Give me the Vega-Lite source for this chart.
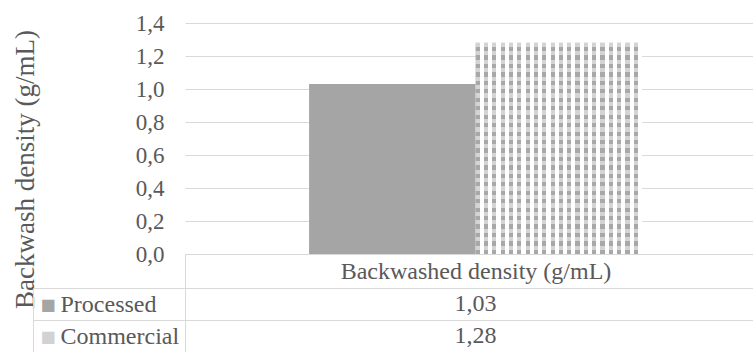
{
  "$schema": "https://vega.github.io/schema/vega-lite/v6.json",
  "background": "white",
  "padding": {"left": 11, "top": 12, "right": 0, "bottom": 0},
  "autosize": {"type": "pad"},
  "bounds": "flush",
  "spacing": 34,
  "config": {
    "locale": {"number": {"decimal": ",", "thousands": ".", "grouping": [3], "currency": ["", " €"]}},
    "view": {"stroke": null},
    "font": "Liberation Serif",
    "axis": {
      "labelFont": "Liberation Serif",
      "titleFont": "Liberation Serif",
      "labelColor": "#595959",
      "titleColor": "#595959",
      "titleFontWeight": "normal",
      "labelLimit": 0
    }
  },
  "datasets": {
    "density": [
      {"metric": "Backwashed density (g/mL)", "series": "Processed", "value": 1.03},
      {"metric": "Backwashed density (g/mL)", "series": "Commercial", "value": 1.28}
    ]
  },
  "vconcat": [
    {
      "data": {"name": "density"},
      "width": 568,
      "height": 231,
      "encoding": {
        "x": {
          "field": "metric",
          "type": "nominal",
          "scale": {"paddingInner": 0, "paddingOuter": 0},
          "axis": {
            "title": null,
            "labelAngle": 0,
            "labelFontSize": 24,
            "labelBaseline": "middle",
            "labelPadding": -17,
            "tickSize": 34,
            "tickColor": "#d9d9d9",
            "tickOffset": -284,
            "labelOffset": 290.5,
            "domainColor": "#d9d9d9",
            "grid": false
          }
        },
        "xOffset": {
          "field": "series",
          "type": "nominal",
          "scale": {"domain": ["Processed", "Commercial"], "paddingInner": 0, "paddingOuter": 0.7057, "align": 0.528}
        },
        "y": {
          "field": "value",
          "type": "quantitative",
          "scale": {"domain": [0, 1.4], "nice": false},
          "axis": {
            "values": [0, 0.2, 0.4, 0.6, 0.8, 1, 1.2, 1.4],
            "format": ".1f",
            "title": "Backwash density (g/mL)",
            "titleFontSize": 27,
            "titleX": -146,
            "titleY": 146,
            "titleAngle": -90,
            "titleAlign": "center",
            "titleBaseline": "bottom",
            "titleLimit": 400,
            "labelFontSize": 23,
            "labelPadding": 21,
            "ticks": false,
            "tickSize": 0,
            "domain": false,
            "gridColor": "#d9d9d9"
          }
        }
      },
      "layer": [
        {
          "transform": [{"filter": "datum.series === 'Processed'"}],
          "mark": {"type": "bar", "color": "#a5a5a5"}
        },
        {
          "transform": [{"filter": "datum.series === 'Commercial'"}],
          "mark": {
            "type": "bar",
            "color": {
              "gradient": "linear", "x1": 0, "x2": 1, "y1": 0, "y2": 0,
              "stops": [
                {"offset": 0, "color": "#a8a8a8"}, {"offset": 0.025, "color": "#a8a8a8"}, {"offset": 0.025, "color": "#ffffff"}, {"offset": 0.05, "color": "#ffffff"},
                {"offset": 0.05, "color": "#a8a8a8"}, {"offset": 0.075, "color": "#a8a8a8"}, {"offset": 0.075, "color": "#ffffff"}, {"offset": 0.1, "color": "#ffffff"},
                {"offset": 0.1, "color": "#a8a8a8"}, {"offset": 0.125, "color": "#a8a8a8"}, {"offset": 0.125, "color": "#ffffff"}, {"offset": 0.15, "color": "#ffffff"},
                {"offset": 0.15, "color": "#a8a8a8"}, {"offset": 0.175, "color": "#a8a8a8"}, {"offset": 0.175, "color": "#ffffff"}, {"offset": 0.2, "color": "#ffffff"},
                {"offset": 0.2, "color": "#a8a8a8"}, {"offset": 0.225, "color": "#a8a8a8"}, {"offset": 0.225, "color": "#ffffff"}, {"offset": 0.25, "color": "#ffffff"},
                {"offset": 0.25, "color": "#a8a8a8"}, {"offset": 0.275, "color": "#a8a8a8"}, {"offset": 0.275, "color": "#ffffff"}, {"offset": 0.3, "color": "#ffffff"},
                {"offset": 0.3, "color": "#a8a8a8"}, {"offset": 0.325, "color": "#a8a8a8"}, {"offset": 0.325, "color": "#ffffff"}, {"offset": 0.35, "color": "#ffffff"},
                {"offset": 0.35, "color": "#a8a8a8"}, {"offset": 0.375, "color": "#a8a8a8"}, {"offset": 0.375, "color": "#ffffff"}, {"offset": 0.4, "color": "#ffffff"},
                {"offset": 0.4, "color": "#a8a8a8"}, {"offset": 0.425, "color": "#a8a8a8"}, {"offset": 0.425, "color": "#ffffff"}, {"offset": 0.45, "color": "#ffffff"},
                {"offset": 0.45, "color": "#a8a8a8"}, {"offset": 0.475, "color": "#a8a8a8"}, {"offset": 0.475, "color": "#ffffff"}, {"offset": 0.5, "color": "#ffffff"},
                {"offset": 0.5, "color": "#a8a8a8"}, {"offset": 0.525, "color": "#a8a8a8"}, {"offset": 0.525, "color": "#ffffff"}, {"offset": 0.55, "color": "#ffffff"},
                {"offset": 0.55, "color": "#a8a8a8"}, {"offset": 0.575, "color": "#a8a8a8"}, {"offset": 0.575, "color": "#ffffff"}, {"offset": 0.6, "color": "#ffffff"},
                {"offset": 0.6, "color": "#a8a8a8"}, {"offset": 0.625, "color": "#a8a8a8"}, {"offset": 0.625, "color": "#ffffff"}, {"offset": 0.65, "color": "#ffffff"},
                {"offset": 0.65, "color": "#a8a8a8"}, {"offset": 0.675, "color": "#a8a8a8"}, {"offset": 0.675, "color": "#ffffff"}, {"offset": 0.7, "color": "#ffffff"},
                {"offset": 0.7, "color": "#a8a8a8"}, {"offset": 0.725, "color": "#a8a8a8"}, {"offset": 0.725, "color": "#ffffff"}, {"offset": 0.75, "color": "#ffffff"},
                {"offset": 0.75, "color": "#a8a8a8"}, {"offset": 0.775, "color": "#a8a8a8"}, {"offset": 0.775, "color": "#ffffff"}, {"offset": 0.8, "color": "#ffffff"},
                {"offset": 0.8, "color": "#a8a8a8"}, {"offset": 0.825, "color": "#a8a8a8"}, {"offset": 0.825, "color": "#ffffff"}, {"offset": 0.85, "color": "#ffffff"},
                {"offset": 0.85, "color": "#a8a8a8"}, {"offset": 0.875, "color": "#a8a8a8"}, {"offset": 0.875, "color": "#ffffff"}, {"offset": 0.9, "color": "#ffffff"},
                {"offset": 0.9, "color": "#a8a8a8"}, {"offset": 0.925, "color": "#a8a8a8"}, {"offset": 0.925, "color": "#ffffff"}, {"offset": 0.95, "color": "#ffffff"},
                {"offset": 0.95, "color": "#a8a8a8"}, {"offset": 0.975, "color": "#a8a8a8"}, {"offset": 0.975, "color": "#ffffff"}, {"offset": 1, "color": "#ffffff"}
              ]
            }
          }
        },
        {
          "transform": [{"filter": "datum.series === 'Commercial'"}],
          "mark": {
            "type": "bar",
            "color": {
              "gradient": "linear", "x1": 0, "x2": 0, "y1": 0, "y2": 1,
              "stops": [
                {"offset": 0, "color": "rgba(255,255,255,0.5)"}, {"offset": 0.02, "color": "rgba(255,255,255,0.5)"}, {"offset": 0.02, "color": "rgba(255,255,255,0)"}, {"offset": 0.04, "color": "rgba(255,255,255,0)"},
                {"offset": 0.04, "color": "rgba(255,255,255,0.5)"}, {"offset": 0.06, "color": "rgba(255,255,255,0.5)"}, {"offset": 0.06, "color": "rgba(255,255,255,0)"}, {"offset": 0.08, "color": "rgba(255,255,255,0)"},
                {"offset": 0.08, "color": "rgba(255,255,255,0.5)"}, {"offset": 0.1, "color": "rgba(255,255,255,0.5)"}, {"offset": 0.1, "color": "rgba(255,255,255,0)"}, {"offset": 0.12, "color": "rgba(255,255,255,0)"},
                {"offset": 0.12, "color": "rgba(255,255,255,0.5)"}, {"offset": 0.14, "color": "rgba(255,255,255,0.5)"}, {"offset": 0.14, "color": "rgba(255,255,255,0)"}, {"offset": 0.16, "color": "rgba(255,255,255,0)"},
                {"offset": 0.16, "color": "rgba(255,255,255,0.5)"}, {"offset": 0.18, "color": "rgba(255,255,255,0.5)"}, {"offset": 0.18, "color": "rgba(255,255,255,0)"}, {"offset": 0.2, "color": "rgba(255,255,255,0)"},
                {"offset": 0.2, "color": "rgba(255,255,255,0.5)"}, {"offset": 0.22, "color": "rgba(255,255,255,0.5)"}, {"offset": 0.22, "color": "rgba(255,255,255,0)"}, {"offset": 0.24, "color": "rgba(255,255,255,0)"},
                {"offset": 0.24, "color": "rgba(255,255,255,0.5)"}, {"offset": 0.26, "color": "rgba(255,255,255,0.5)"}, {"offset": 0.26, "color": "rgba(255,255,255,0)"}, {"offset": 0.28, "color": "rgba(255,255,255,0)"},
                {"offset": 0.28, "color": "rgba(255,255,255,0.5)"}, {"offset": 0.3, "color": "rgba(255,255,255,0.5)"}, {"offset": 0.3, "color": "rgba(255,255,255,0)"}, {"offset": 0.32, "color": "rgba(255,255,255,0)"},
                {"offset": 0.32, "color": "rgba(255,255,255,0.5)"}, {"offset": 0.34, "color": "rgba(255,255,255,0.5)"}, {"offset": 0.34, "color": "rgba(255,255,255,0)"}, {"offset": 0.36, "color": "rgba(255,255,255,0)"},
                {"offset": 0.36, "color": "rgba(255,255,255,0.5)"}, {"offset": 0.38, "color": "rgba(255,255,255,0.5)"}, {"offset": 0.38, "color": "rgba(255,255,255,0)"}, {"offset": 0.4, "color": "rgba(255,255,255,0)"},
                {"offset": 0.4, "color": "rgba(255,255,255,0.5)"}, {"offset": 0.42, "color": "rgba(255,255,255,0.5)"}, {"offset": 0.42, "color": "rgba(255,255,255,0)"}, {"offset": 0.44, "color": "rgba(255,255,255,0)"},
                {"offset": 0.44, "color": "rgba(255,255,255,0.5)"}, {"offset": 0.46, "color": "rgba(255,255,255,0.5)"}, {"offset": 0.46, "color": "rgba(255,255,255,0)"}, {"offset": 0.48, "color": "rgba(255,255,255,0)"},
                {"offset": 0.48, "color": "rgba(255,255,255,0.5)"}, {"offset": 0.5, "color": "rgba(255,255,255,0.5)"}, {"offset": 0.5, "color": "rgba(255,255,255,0)"}, {"offset": 0.52, "color": "rgba(255,255,255,0)"},
                {"offset": 0.52, "color": "rgba(255,255,255,0.5)"}, {"offset": 0.54, "color": "rgba(255,255,255,0.5)"}, {"offset": 0.54, "color": "rgba(255,255,255,0)"}, {"offset": 0.56, "color": "rgba(255,255,255,0)"},
                {"offset": 0.56, "color": "rgba(255,255,255,0.5)"}, {"offset": 0.58, "color": "rgba(255,255,255,0.5)"}, {"offset": 0.58, "color": "rgba(255,255,255,0)"}, {"offset": 0.6, "color": "rgba(255,255,255,0)"},
                {"offset": 0.6, "color": "rgba(255,255,255,0.5)"}, {"offset": 0.62, "color": "rgba(255,255,255,0.5)"}, {"offset": 0.62, "color": "rgba(255,255,255,0)"}, {"offset": 0.64, "color": "rgba(255,255,255,0)"},
                {"offset": 0.64, "color": "rgba(255,255,255,0.5)"}, {"offset": 0.66, "color": "rgba(255,255,255,0.5)"}, {"offset": 0.66, "color": "rgba(255,255,255,0)"}, {"offset": 0.68, "color": "rgba(255,255,255,0)"},
                {"offset": 0.68, "color": "rgba(255,255,255,0.5)"}, {"offset": 0.7, "color": "rgba(255,255,255,0.5)"}, {"offset": 0.7, "color": "rgba(255,255,255,0)"}, {"offset": 0.72, "color": "rgba(255,255,255,0)"},
                {"offset": 0.72, "color": "rgba(255,255,255,0.5)"}, {"offset": 0.74, "color": "rgba(255,255,255,0.5)"}, {"offset": 0.74, "color": "rgba(255,255,255,0)"}, {"offset": 0.76, "color": "rgba(255,255,255,0)"},
                {"offset": 0.76, "color": "rgba(255,255,255,0.5)"}, {"offset": 0.78, "color": "rgba(255,255,255,0.5)"}, {"offset": 0.78, "color": "rgba(255,255,255,0)"}, {"offset": 0.8, "color": "rgba(255,255,255,0)"},
                {"offset": 0.8, "color": "rgba(255,255,255,0.5)"}, {"offset": 0.82, "color": "rgba(255,255,255,0.5)"}, {"offset": 0.82, "color": "rgba(255,255,255,0)"}, {"offset": 0.84, "color": "rgba(255,255,255,0)"},
                {"offset": 0.84, "color": "rgba(255,255,255,0.5)"}, {"offset": 0.86, "color": "rgba(255,255,255,0.5)"}, {"offset": 0.86, "color": "rgba(255,255,255,0)"}, {"offset": 0.88, "color": "rgba(255,255,255,0)"},
                {"offset": 0.88, "color": "rgba(255,255,255,0.5)"}, {"offset": 0.9, "color": "rgba(255,255,255,0.5)"}, {"offset": 0.9, "color": "rgba(255,255,255,0)"}, {"offset": 0.92, "color": "rgba(255,255,255,0)"},
                {"offset": 0.92, "color": "rgba(255,255,255,0.5)"}, {"offset": 0.94, "color": "rgba(255,255,255,0.5)"}, {"offset": 0.94, "color": "rgba(255,255,255,0)"}, {"offset": 0.96, "color": "rgba(255,255,255,0)"},
                {"offset": 0.96, "color": "rgba(255,255,255,0.5)"}, {"offset": 0.98, "color": "rgba(255,255,255,0.5)"}, {"offset": 0.98, "color": "rgba(255,255,255,0)"}, {"offset": 1, "color": "rgba(255,255,255,0)"}
              ]
            }
          }
        }
      ]
    },
    {
      "data": {"name": "density"},
      "width": 568,
      "height": 64,
      "encoding": {
        "x": {"field": "metric", "type": "nominal", "axis": null, "scale": {"paddingInner": 0, "paddingOuter": 0}}
      },
      "layer": [
        {
          "mark": {"type": "text", "font": "Liberation Serif", "fontSize": 24, "color": "#595959", "baseline": "middle", "dx": 6.5},
          "encoding": {
            "text": {"field": "value", "type": "quantitative", "format": ".2f"},
            "y": {
              "field": "series",
              "type": "nominal",
              "scale": {"domain": ["Processed", "Commercial"], "paddingInner": 0, "paddingOuter": 0},
              "axis": {
                "title": null,
                "orient": "left",
                "domain": true,
                "domainColor": "#d9d9d9",
                "ticks": true,
                "tickSize": 152,
                "tickColor": "#d9d9d9",
                "tickOffset": -16,
                "labelOffset": 16,
                "grid": true,
                "gridColor": "#d9d9d9",
                "labelAlign": "left",
                "labelBaseline": "middle",
                "labelPadding": -27,
                "labelFontSize": 24
              }
            }
          }
        },
        {
          "mark": {"type": "text", "opacity": 0},
          "encoding": {
            "text": {"field": "series", "type": "nominal"},
            "y": {
              "field": "series",
              "type": "nominal",
              "axis": {
                "title": null,
                "orient": "left",
                "offset": 152,
                "domain": true,
                "domainColor": "#d9d9d9",
                "ticks": false,
                "tickSize": 0,
                "grid": false,
                "labelExpr": "'■'",
                "labelFont": "DejaVu Sans",
                "labelFontSize": 16,
                "labelColor": {"condition": {"test": "datum.value === 'Processed'", "value": "#a5a5a5"}, "value": "#d2d2d2"},
                "labelAlign": "left",
                "labelBaseline": "middle",
                "labelPadding": -7
              }
            }
          }
        }
      ],
      "resolve": {"axis": {"y": "independent"}}
    }
  ]
}
